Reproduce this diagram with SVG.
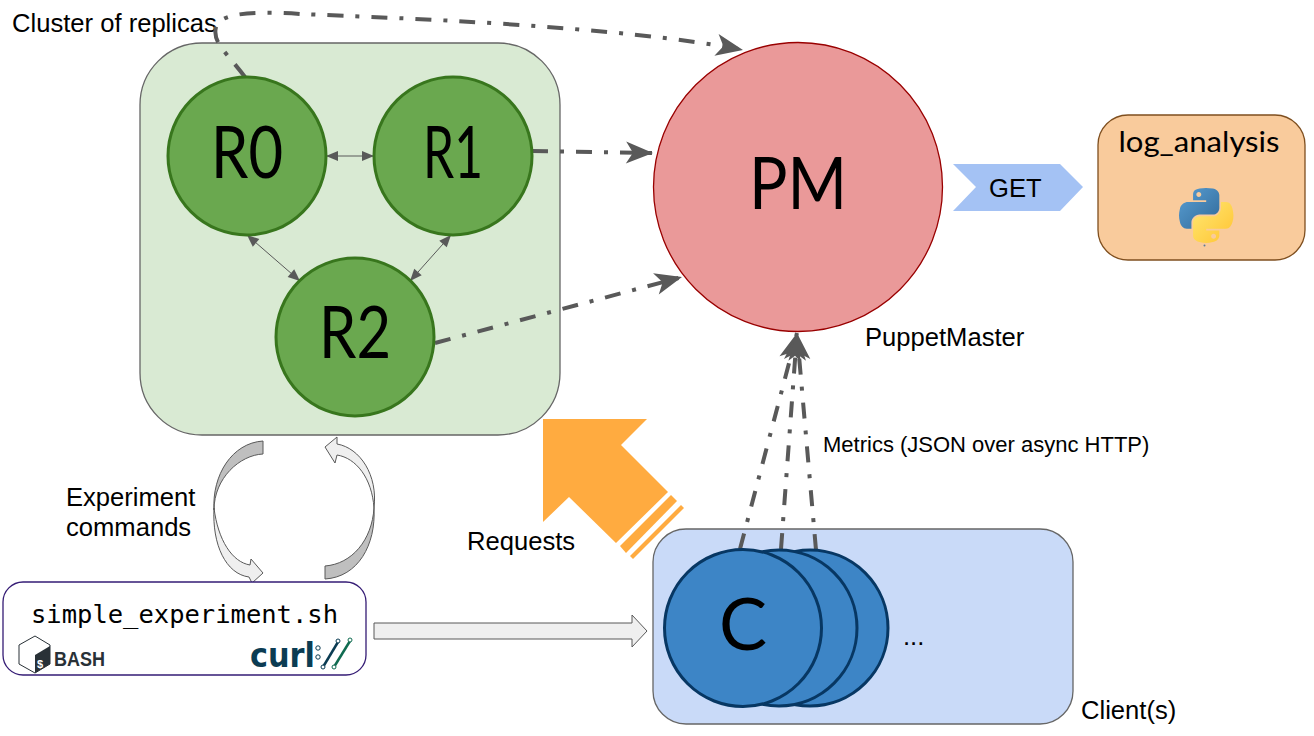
<svg xmlns="http://www.w3.org/2000/svg" width="1314" height="736" viewBox="0 0 1314 736">
<style>
text{font-family:"Liberation Sans",Arial,sans-serif;fill:#000}
.t{font-size:25.600px}
.big{font-family:Lato,"Noto Sans",sans-serif;font-size:72px;text-anchor:middle}
.rep{fill:#6aa84f;stroke:#38761d;stroke-width:3}
.cli{fill:#3d85c6;stroke:#073763;stroke-width:3}
.dd{fill:none;stroke:#595959;stroke-width:4;stroke-dasharray:16 12 4 12;marker-end:url(#stealth)}
.thin{stroke:#595959;stroke-width:1;fill:none;marker-start:url(#small);marker-end:url(#small)}
.dark{fill:#bfbfbf;stroke:#595959;stroke-width:1}
.light{fill:#efefef;stroke:#595959;stroke-width:1}
</style>
<defs>
<marker id="stealth" markerUnits="userSpaceOnUse" markerWidth="32" markerHeight="26" refX="30" refY="13" orient="auto"><path d="M30 13 L3 2 L10 13 L3 24Z" fill="#595959"/></marker>
<marker id="small" markerUnits="userSpaceOnUse" markerWidth="14" markerHeight="12" refX="13" refY="6" orient="auto-start-reverse"><path d="M13 6 L1 1 L1 11Z" fill="#595959"/></marker>
<linearGradient id="py1" x1="0" y1="0" x2="1" y2="1"><stop offset="0" stop-color="#5a9fd4"/><stop offset="1" stop-color="#306998"/></linearGradient>
<linearGradient id="py2" x1="0" y1="0" x2="1" y2="1"><stop offset="0" stop-color="#ffe873"/><stop offset="1" stop-color="#ffc331"/></linearGradient>
</defs>

<g id="cluster">
<rect x="140" y="43" width="420" height="392" rx="62" fill="#d9ead3" stroke="#666" stroke-width="1.300"/>
</g>
<text class="t" x="12" y="32">Cluster of replicas</text>

<g id="clients-box">
<rect x="653" y="529" width="420" height="195" rx="33" fill="#c9daf8" stroke="#666" stroke-width="1.300"/>
<text x="903" y="645" font-size="25.600">...</text>
</g>
<text class="t" x="1081" y="719">Client(s)</text>

<g id="connectors">
<path class="dd" d="M245 77 C226 52 212 42 216 27 C220 10 270 12 300 14 C400 18 620 26 743 50"/>
<path class="dd" d="M532 151 L653 153"/>
<path class="dd" d="M435 343 L682 277"/>
<path class="dd" d="M740 549 L797 333"/>
<path class="dd" d="M781 549 L797 333"/>
<path class="dd" d="M816 550 L797 333"/>
<path class="thin" d="M326 156 L374 156"/>
<path class="thin" d="M247 235 L300 281"/>
<path class="thin" d="M451 235 L410 281"/>
</g>

<g id="R0"><circle class="rep" cx="247" cy="156" r="79"/><text class="big" x="247" y="178" textLength="72" lengthAdjust="spacingAndGlyphs">R0</text></g>
<g id="R1"><circle class="rep" cx="453" cy="156" r="79"/><text class="big" x="453" y="178" textLength="60" lengthAdjust="spacingAndGlyphs">R1</text></g>
<g id="R2"><circle class="rep" cx="355" cy="337" r="79"/><text class="big" x="355" y="358" textLength="72" lengthAdjust="spacingAndGlyphs">R2</text></g>

<g id="C3"><circle class="cli" cx="810" cy="628" r="78"/></g>
<g id="C2"><circle class="cli" cx="779" cy="628" r="78"/></g>
<g id="C1"><circle class="cli" cx="743" cy="628" r="78.500"/><text class="big" x="743" y="650">C</text></g>

<g id="PM"><circle cx="798" cy="187" r="144.500" fill="#ea9999" stroke="#990000" stroke-width="1.300"/><text class="big" x="798" y="209" textLength="98" lengthAdjust="spacingAndGlyphs">PM</text></g>
<text class="t" x="865" y="346">PuppetMaster</text>

<g id="get-arrow"><path d="M953 164 H1060 L1083 187 L1060 211 H953 L976 187Z" fill="#a4c2f4"/><text class="t" x="989" y="197">GET</text></g>

<g id="log-analysis">
<rect x="1098" y="115" width="207" height="145" rx="30" fill="#f9cb9c" stroke="#7f4f1f" stroke-width="1.300"/>
<text x="1199" y="152" text-anchor="middle" font-size="28" textLength="161" lengthAdjust="spacingAndGlyphs" style="font-family:Lato,sans-serif">log_analysis</text>
<g transform="translate(1179 188) scale(.49)">
<path fill="url(#py1)" d="M54.919 0c-4.584.022-8.961.413-12.813 1.095C30.76 3.099 28.7 7.295 28.7 15.032v10.219h26.813v3.406H18.638c-7.793 0-14.616 4.684-16.75 13.594-2.462 10.213-2.571 16.586 0 27.25 1.905 7.938 6.457 13.594 14.25 13.594h9.219v-12.25c0-8.85 7.657-16.656 16.75-16.656h26.781c7.454 0 13.406-6.138 13.406-13.625v-25.531c0-7.266-6.13-12.725-13.406-13.937C64.282.328 59.502-.02 54.919 0zm-14.5 8.219c2.77 0 5.031 2.299 5.031 5.125 0 2.816-2.262 5.094-5.031 5.094-2.78 0-5.031-2.278-5.031-5.094 0-2.826 2.251-5.125 5.031-5.125z"/>
<path fill="url(#py2)" d="M85.638 28.657v11.906c0 9.231-7.826 17-16.75 17H42.106c-7.336 0-13.406 6.278-13.406 13.625v25.531c0 7.266 6.319 11.54 13.406 13.625 8.487 2.496 16.626 2.947 26.781 0 6.75-1.954 13.406-5.888 13.406-13.625V86.501H55.513v-3.406h40.188c7.793 0 10.696-5.436 13.406-13.594 2.8-8.399 2.68-16.476 0-27.25-1.926-7.757-5.604-13.594-13.406-13.594H85.638zM70.575 93.313c2.78 0 5.031 2.278 5.031 5.094 0 2.826-2.251 5.125-5.031 5.125-2.77 0-5.031-2.299-5.031-5.125 0-2.816 2.261-5.094 5.031-5.094z"/>
</g>
<circle cx="1204.500" cy="245.500" r="1" fill="#5a7a9a"/>
</g>

<g id="requests-arrow" fill="#ffab40">
<path d="M543 419 H647 L621 445 L668 492 L616 543 L569 497 L543 522Z"/>
<path d="M671 495 L677 501 L626 553 L620 546Z"/>
<path d="M681 505 L684 508 L633 559 L630 556Z"/>
</g>
<text class="t" x="467" y="550">Requests</text>
<text x="823" y="452" font-size="22">Metrics (JSON over async HTTP)</text>

<g id="cycle-arrows">
<path class="dark" d="M263 441 V454 C240 455 214 478 214 510 C212 475 232 443 263 441Z"/>
<path class="light" d="M214 508 C218 540 232 562 250 565 L251 559 L263 573 L252 583 L249 577 C226 574 212 545 214 508Z"/>
<path class="light" d="M374 508 C372 478 356 458 337 455 L335 463 L325 447 L337 437 L337 444 C360 448 378 475 374 508Z"/>
<path class="dark" d="M325 566 C352 564 372 540 374 508 C376 545 358 577 325 579Z"/>
</g>
<text class="t" x="66" y="506">Experiment</text>
<text class="t" x="66" y="536">commands</text>

<g id="script">
<rect x="3" y="582" width="363" height="93" rx="20" fill="#fff" stroke="#351c75" stroke-width="1.300"/>
<text x="31" y="623" font-size="25.500" style="font-family:'DejaVu Sans Mono',monospace" textLength="307" lengthAdjust="spacingAndGlyphs">simple_experiment.sh</text>
<path d="M35 636 L50 645 V664 L35 673 L19 664 V645Z" fill="#fff" stroke="#293137" stroke-width="1"/>
<path d="M50 646 V664 L35 673 L35 655Z" fill="#293137"/>
<text x="37" y="668" font-size="11" font-weight="700" style="fill:#fff">$_</text>
<text x="54" y="666" font-size="21" font-weight="700" style="fill:#293137" textLength="51" lengthAdjust="spacingAndGlyphs">BASH</text>
<text x="250" y="667" font-size="33" font-weight="700" style="fill:#0b3c53;font-family:'DejaVu Sans',sans-serif" textLength="65" lengthAdjust="spacingAndGlyphs">curl</text>
<circle cx="318" cy="648" r="2.200" fill="#fff" stroke="#0b3c53"/><circle cx="318" cy="657" r="2.200" fill="#fff" stroke="#0b3c53"/>
<path d="M323 667 L338 642" stroke="#0b3c53" stroke-width="2.500"/><path d="M334 667 L350 641" stroke="#0f6b50" stroke-width="2.500"/>
<circle cx="338" cy="641" r="2" fill="#fff" stroke="#0b3c53"/><circle cx="350" cy="640" r="2" fill="#fff" stroke="#0f6b50"/><circle cx="323" cy="667" r="2" fill="#fff" stroke="#0b3c53"/><circle cx="334" cy="667" r="2" fill="#fff" stroke="#0f6b50"/>
</g>

<g id="run-arrow"><path class="light" d="M374 623 H632 V615 L647 631 L632 647 V639 H374Z"/></g>
</svg>
